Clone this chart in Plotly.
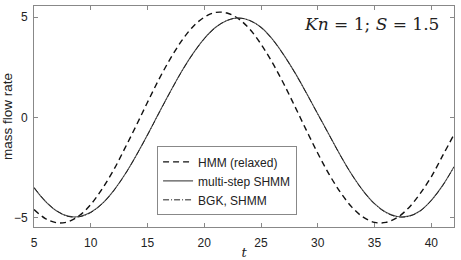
import plotly.graph_objects as go

t = list(range(5, 43))

hmm_relaxed = [-4.58, -5.03, -5.24, -5.19, -4.88, -4.33, -3.56, -2.63, -1.54, -0.41,
               0.76, 1.89, 2.92, 3.81, 4.52, 4.99, 5.23, 5.20, 4.92, 4.40,
               3.65, 2.73, 1.68, 0.53, -0.64, -1.78, -2.83, -3.73, -4.46, -4.96,
               -5.22, -5.22, -4.98, -4.50, -3.80, -2.95, -1.90, -0.85]

multistep_shmm = [-3.50, -4.17, -4.65, -4.91, -4.93, -4.72, -4.29, -3.65, -2.84, -1.89,
                  -0.86, 0.22, 1.28, 2.29, 3.18, 3.93, 4.49, 4.83, 4.95, 4.83,
                  4.49, 3.90, 3.12, 2.22, 1.22, 0.18, -0.86, -1.89, -2.84, -3.65,
                  -4.29, -4.72, -4.93, -4.91, -4.65, -4.12, -3.38, -2.45]

bgk_shmm = [-3.48, -4.16, -4.65, -4.92, -4.94, -4.73, -4.30, -3.66, -2.85, -1.90,
            -0.87, 0.21, 1.27, 2.28, 3.17, 3.92, 4.48, 4.83, 4.95, 4.83,
            4.48, 3.89, 3.11, 2.21, 1.21, 0.17, -0.87, -1.90, -2.85, -3.66,
            -4.30, -4.73, -4.94, -4.92, -4.66, -4.13, -3.39, -2.46]

x_ticks = [5, 10, 15, 20, 25, 30, 35, 40]
y_ticks = [-5, 0, 5]

fig = go.Figure()
fig.add_trace(go.Scatter(x=t, y=hmm_relaxed, mode="lines", name="HMM (relaxed)",
                         line=dict(color="#111111", width=1.4, dash="6px,4px", shape="spline")))
fig.add_trace(go.Scatter(x=t, y=multistep_shmm, mode="lines", name="multi-step SHMM",
                         line=dict(color="#555555", width=1.1, shape="spline")))
fig.add_trace(go.Scatter(x=t, y=bgk_shmm, mode="lines", name="BGK, SHMM",
                         line=dict(color="#222222", width=1.0, dash="6px,2px,1px,2px", shape="spline")))

axis_common = dict(showgrid=False, zeroline=False, showline=True, linecolor="#888888",
                   linewidth=1, mirror="ticks", ticks="inside", ticklen=4, automargin=False,
                   tickcolor="#888888", tickfont=dict(family="Liberation Sans, Arial", size=12, color="#222222"))

fig.update_layout(
    width=461, height=260,
    margin=dict(l=34, r=7, t=6, b=33),
    paper_bgcolor="white", plot_bgcolor="white",
    showlegend=True,
    legend=dict(x=0.293, y=0.365, xanchor="left", yanchor="top",
                bordercolor="#888888", borderwidth=1, bgcolor="white",
                font=dict(family="Liberation Sans, Arial", size=12, color="#222222"),
                tracegroupgap=0, itemwidth=30),
    xaxis=dict(range=[5, 42], tickvals=x_ticks, ticklabelstandoff=5, **axis_common,
               title=dict(text="<i>t</i>", standoff=2,
                          font=dict(family="DejaVu Serif, serif", size=13, color="#222222"))),
    yaxis=dict(range=[-5.45, 5.55], tickvals=y_ticks, ticktext=["\u22125", "0", "5"],
               ticklabelstandoff=3, **axis_common,
               title=dict(text="mass flow rate", standoff=4,
                          font=dict(family="Liberation Sans, Arial", size=13.5, color="#222222"))),
    annotations=[dict(xref="paper", yref="paper", x=0.97, y=0.975, xanchor="right", yanchor="top",
                      showarrow=False,
                      text="<i>Kn</i> = 1; <i>S</i> = 1.5",
                      font=dict(family="DejaVu Serif, serif", size=17, color="#222222"))],
)

fig.write_html("out.html")
